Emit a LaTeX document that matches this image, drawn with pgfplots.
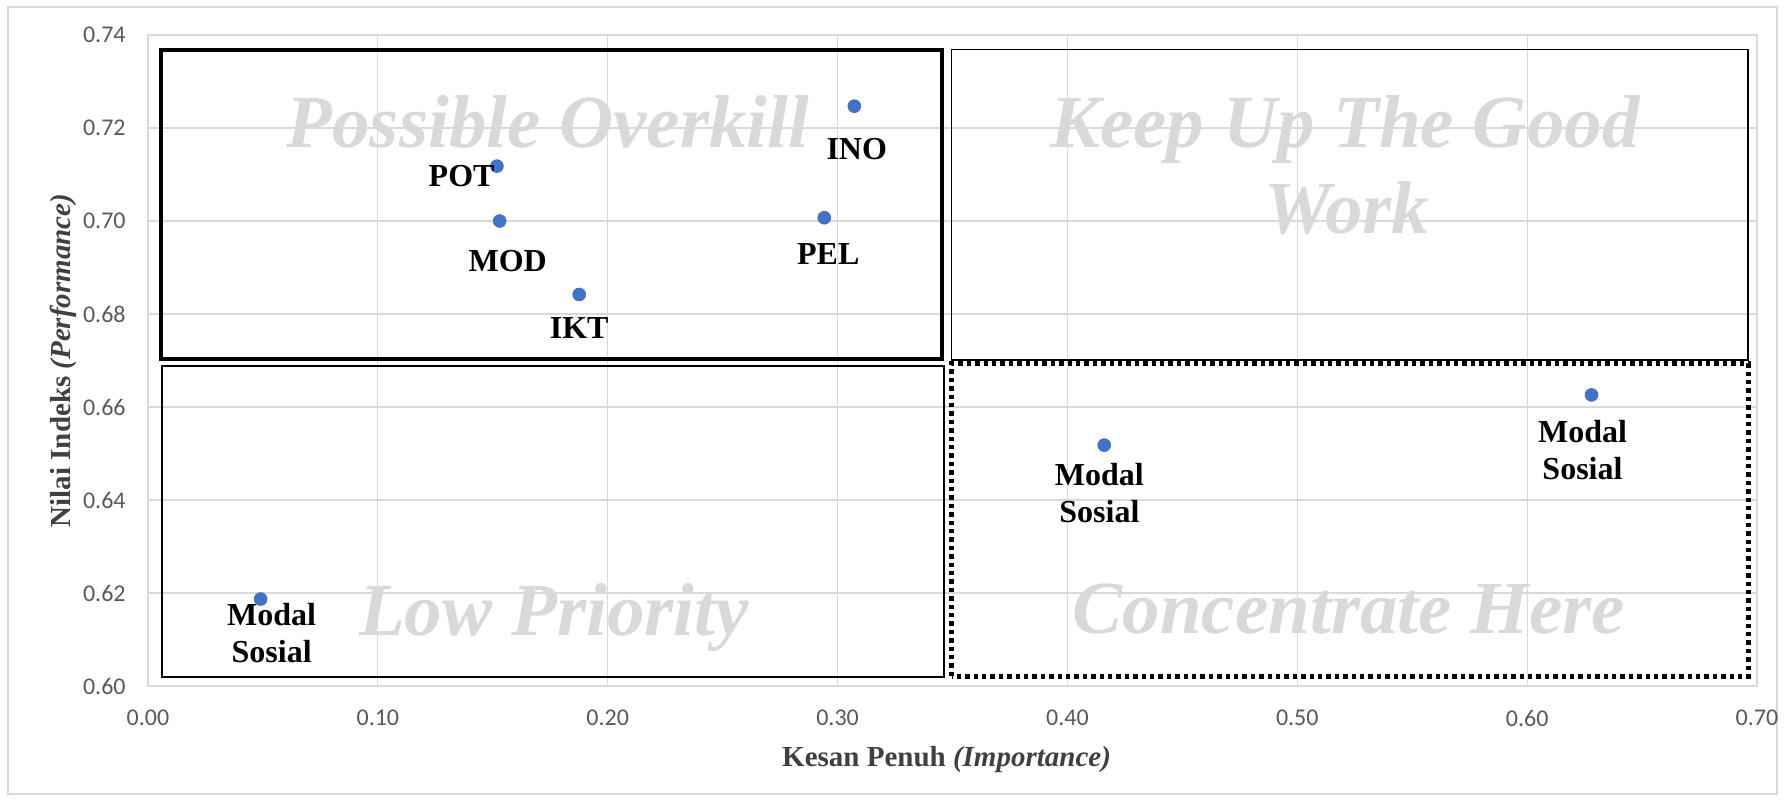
\documentclass[border=0pt]{standalone}
\usepackage{fontspec}
\setmainfont{Liberation Serif}
\newfontfamily\carlito{Carlito}
\usepackage{pgfplots}
\usepackage{pgfplotstable}
\pgfplotsset{compat=1.18}

\definecolor{gridgray}{HTML}{D9D9D9}
\definecolor{ticktext}{HTML}{595959}
\definecolor{titletext}{HTML}{404040}
\definecolor{dotblue}{HTML}{4472C4}

% points labelled below (dx, dy in pt)
\pgfplotstableread{
x      y       label  dx    dy
0.1530 0.7000  MOD    4     -14.5
0.1876 0.6842  IKT    0     -11.5
0.3073 0.7247  INO    1.2   -16
0.2942 0.7007  PEL    2     -12.5
}\labelbelow

\pgfplotstableread{
x      y       dx     dy
0.049  0.6187  5.5    -2
0.416  0.6518  -2.4   -9
0.628  0.6626  -4.5   -12.5
}\modalsosial

\begin{document}
\begin{tikzpicture}
\useasboundingbox (-74pt,-56.5pt) rectangle (819pt,343pt);
\draw[gridgray, line width=0.6pt] (-70pt,-54pt) rectangle (814.5pt,339.5pt);
\begin{axis}[
    at={(0,0)}, anchor=south west,
    scale only axis,
    width=804.5pt, height=325.5pt,
    xmin=0, xmax=0.7, ymin=0.6, ymax=0.74,
    xtick={0,0.1,0.2,0.3,0.4,0.5,0.6,0.7},
    ytick={0.60,0.62,0.64,0.66,0.68,0.70,0.72,0.74},
    grid=major,
    grid style={gridgray, line width=0.6pt},
    axis line style={gridgray, line width=0.6pt},
    major tick length=0pt,
    tick style={draw=none},
    /pgf/number format/.cd, fixed, fixed zerofill, precision=2, assume math mode=true,
    /pgfplots/.cd,
    ticklabel style={font=\carlito\fontsize{12}{14}\selectfont, text=ticktext, inner sep=0pt},
    xticklabel shift=12pt,
    yticklabel shift=11pt,
    xlabel={\textbf{Kesan Penuh \textit{(Importance)}}},
    ylabel={\textbf{Nilai Indeks \textit{(Performance)}}},
    label style={font=\fontsize{14.5}{17}\selectfont, text=titletext, inner sep=0pt},
    xlabel style={at={(axis description cs:0.4963,-0.1229)}, anchor=base},
    ylabel style={at={(axis description cs:-0.0479,0.5)}, anchor=base},
]
% quadrant boxes
\draw[black, line width=2.3pt] (axis cs:0.0057,0.6703) rectangle (axis cs:0.3454,0.7368);
\draw[black, line width=0.8pt] (axis cs:0.3496,0.6701) rectangle (axis cs:0.696,0.7369);
\draw[black, line width=0.8pt] (axis cs:0.0060,0.6020) rectangle (axis cs:0.3464,0.6688);
\draw[black, line width=2.4pt, dash pattern=on 2.2pt off 2pt] (axis cs:0.3496,0.6021) rectangle (axis cs:0.6963,0.6693);

% quadrant names
\begin{scope}[every node/.style={text=gridgray, font=\bfseries\itshape\fontsize{37.5}{43}\selectfont, anchor=base, inner sep=0pt}]
\node at (axis cs:0.174,0.7159) {Possible Overkill};
\node at (axis cs:0.5207,0.7159) {Keep Up The Good};
\node at (axis cs:0.5215,0.6974) {Work};
\node at (axis cs:0.1766,0.6108) {Low Priority};
\node at (axis cs:0.5224,0.6112) {Concentrate Here};
\end{scope}

% POT, label to the left
\addplot[only marks, mark=*, mark size=3.2pt, color=dotblue,
    nodes near coords={POT},
    every node near coord/.append style={anchor=east, inner sep=0pt, yshift=-5pt, xshift=-1pt,
        text=black, font=\bfseries\fontsize{16}{18.5}\selectfont}]
    coordinates {(0.1518,0.7118)};

\addplot[only marks, mark=*, mark size=3.2pt, color=dotblue,
    point meta=explicit symbolic,
    visualization depends on={\thisrow{dx}\as\dx},
    visualization depends on={\thisrow{dy}\as\dy},
    nodes near coords,
    every node near coord/.append style={anchor=north, inner sep=0pt,
        xshift=\dx pt, yshift=\dy pt,
        text=black, font=\bfseries\fontsize{16}{18.5}\selectfont}]
    table[x=x, y=y, meta=label] {\labelbelow};

\addplot[only marks, mark=*, mark size=3.2pt, color=dotblue,
    visualization depends on={\thisrow{dx}\as\dx},
    visualization depends on={\thisrow{dy}\as\dy},
    nodes near coords={Modal\\Sosial},
    every node near coord/.append style={anchor=north, inner sep=0pt, align=center,
        xshift=\dx pt, yshift=\dy pt,
        text=black, font=\bfseries\fontsize{16}{18.5}\selectfont}]
    table[x=x, y=y] {\modalsosial};
\end{axis}
\end{tikzpicture}
\end{document}
